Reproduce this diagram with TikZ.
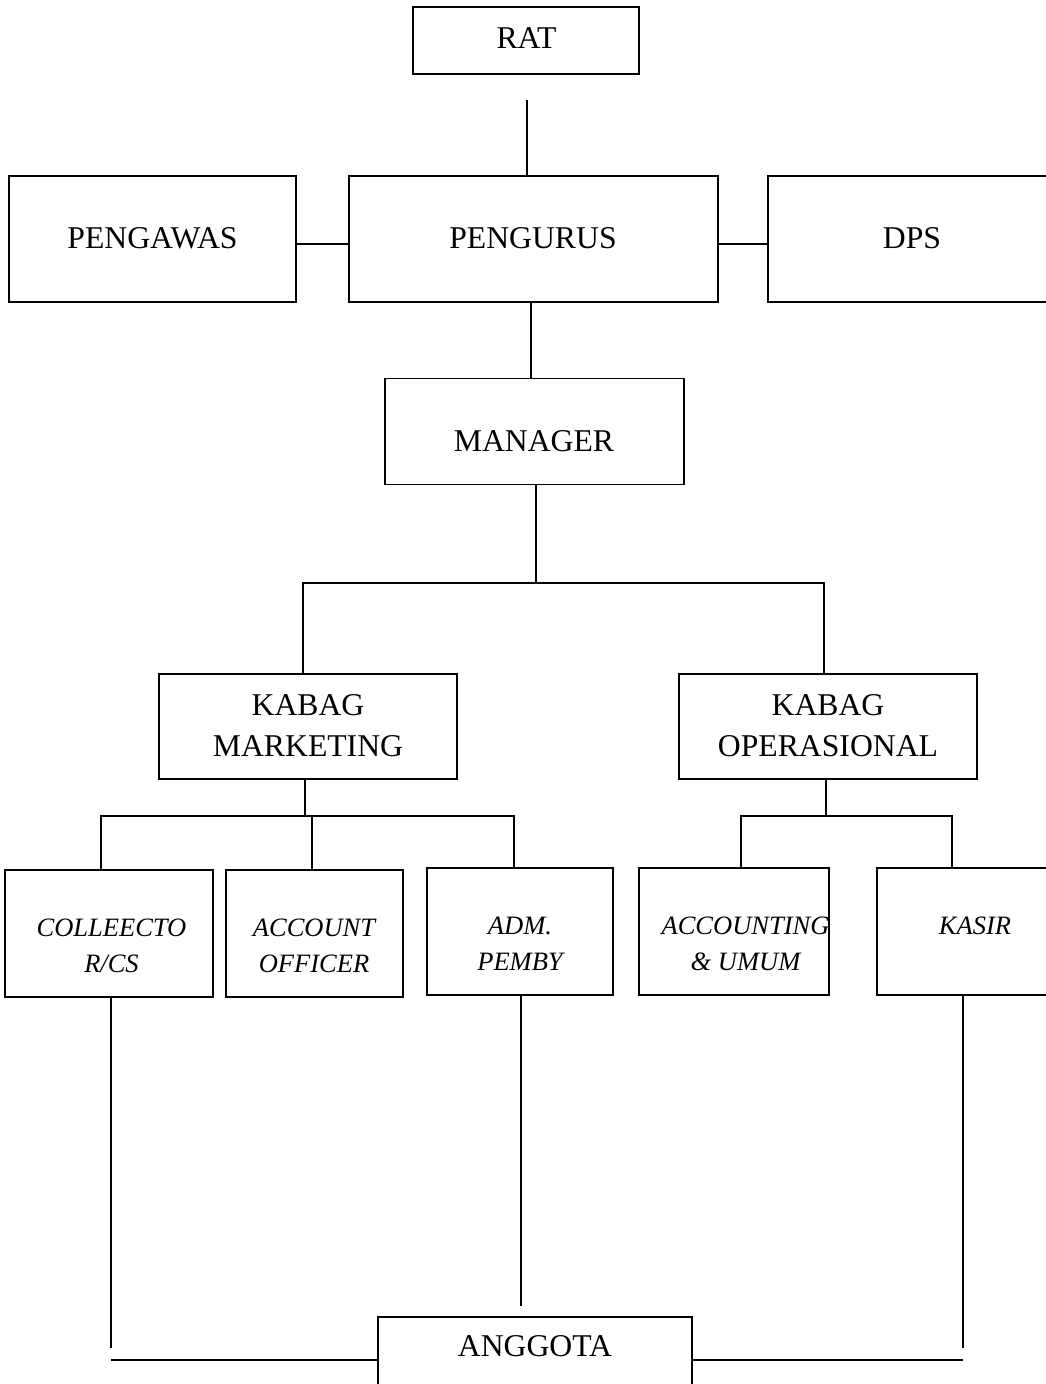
\documentclass[tikz,border=0pt]{standalone}
\usepackage{fontspec}
\setmainfont{Liberation Serif}
\usetikzlibrary{positioning}

\tikzset{
  box/.style={draw, line width=1.6pt, rectangle, inner sep=0pt},
  lbl/.style={align=center, inner sep=0pt, font=\fontsize{31.7pt}{41pt}\selectfont},
  itl/.style={align=center, inner sep=0pt, font=\fontsize{26.5pt}{36pt}\selectfont\itshape},
  link/.style={line width=1.3pt},
  bar/.style={line width=2.4pt},
}

\begin{document}
\begin{tikzpicture}[x=1pt, y=-1pt]
  \useasboundingbox (0,0) rectangle (1046,1384);
  \clip (0,0) rectangle (1046,1384);

  % boxes
  \node[box, minimum width=226pt, minimum height=67pt] (rat) at (526,40.5) {};
  \node[box, minimum width=287pt, minimum height=126pt] (pengawas) at (152.5,239) {};
  \node[box, minimum width=369pt, minimum height=126pt] (pengurus) at (533.5,239) {};
  \node[box, minimum width=292pt, minimum height=126pt] (dps) at (914,239) {};
  \node[box, minimum width=299pt, minimum height=106pt] (manager) at (534.5,431.5) {};
  \node[box, minimum width=298pt, minimum height=105pt] (marketing) at (308,726.5) {};
  \node[box, minimum width=298pt, minimum height=105pt] (operasional) at (828,726.5) {};
  \node[box, minimum width=208pt, minimum height=127pt] (collector) at (109,933.5) {};
  \node[box, minimum width=177pt, minimum height=127pt] (officer) at (314.5,933.5) {};
  \node[box, minimum width=186pt, minimum height=127pt] (pemby) at (520,931.5) {};
  \node[box, minimum width=190pt, minimum height=127pt] (umum) at (734,931.5) {};
  \node[box, minimum width=183pt, minimum height=127pt] (kasir) at (968.5,931.5) {};
  \node[box, minimum width=314pt, minimum height=90pt] (anggota) at (535,1362) {};

  % texts
  \node[lbl] (rat-t) at (526.5,38) {RAT};
  \node[lbl] (pengawas-t) at (152.5,238) {PENGAWAS};
  \node[lbl] (pengurus-t) at (533,238) {PENGURUS};
  \node[lbl] (dps-t) at (912,238) {DPS};
  \node[lbl] (manager-t) at (534,441) {MANAGER};
  \node[lbl] (marketing-t) at (308,725.5) {KABAG\\MARKETING};
  \node[lbl] (operasional-t) at (828,725.5) {KABAG\\OPERASIONAL};
  \node[itl] (collector-t) at (111.5,946) {COLLEECTO\\R/CS};
  \node[itl] (officer-t) at (314,946) {ACCOUNT\\OFFICER};
  \node[itl] (pemby-t) at (520,943.5) {ADM.\\PEMBY};
  \node[itl] (umum-t) at (745.5,943.5) {ACCOUNTING\\\& UMUM};
  \node[itl] (kasir-t) at (975,926) {KASIR};
  \node[lbl] (anggota-t) at (535,1346) {ANGGOTA};

  % free ends
  \coordinate (ratend) at (527,100);
  \coordinate (mgrbus) at (536,583);
  \coordinate (mktbus) at (305,816);
  \coordinate (opsbus) at (826,816);
  \coordinate (colend) at (111,1348);
  \coordinate (pemend) at (521,1306);
  \coordinate (kasend) at (963,1348);
  \coordinate (lbar) at (111,1360);
  \coordinate (rbar) at (963,1360);

  % top links
  \draw[link] (ratend) -- (ratend |- pengurus.north);
  \draw[link] ([yshift=-5pt]pengawas.east) -- ([yshift=-5pt]pengurus.west);
  \draw[link] ([xshift=-2pt,yshift=-5pt]pengurus.east) -- ([yshift=-5pt]dps.west);
  \draw[link] ([xshift=-2.5pt]pengurus.south) -- ([xshift=-3.5pt]manager.north);
  \draw[link] (mgrbus |- manager.south) -- (mgrbus);
  \draw[link] ([xshift=-5pt]marketing.north) |- (mgrbus) -| ([xshift=-4pt]operasional.north);

  % marketing branch
  \draw[link] ([xshift=-3pt]marketing.south) -- (mktbus);
  \draw[link] ([xshift=-8pt]collector.north) |- (mktbus) -| ([xshift=-6pt]pemby.north);
  \draw[link] ([xshift=-2.5pt]officer.north) -- ([xshift=-2.5pt]officer.north |- mktbus);

  % operasional branch
  \draw[link] ([xshift=-2pt]operasional.south) -- (opsbus);
  \draw[link] ([xshift=7pt]umum.north) |- (opsbus) -| ([xshift=-16.5pt]kasir.north);

  % down to anggota
  \draw[link] (colend |- collector.south) -- (colend);
  \draw[link] (pemend |- pemby.south) -- (pemend);
  \draw[link] (kasend |- kasir.south) -- (kasend);
  \draw[bar] (lbar) -- (lbar -| anggota.west);
  \draw[bar] (anggota.east |- rbar) -- (rbar);
\end{tikzpicture}
\end{document}
